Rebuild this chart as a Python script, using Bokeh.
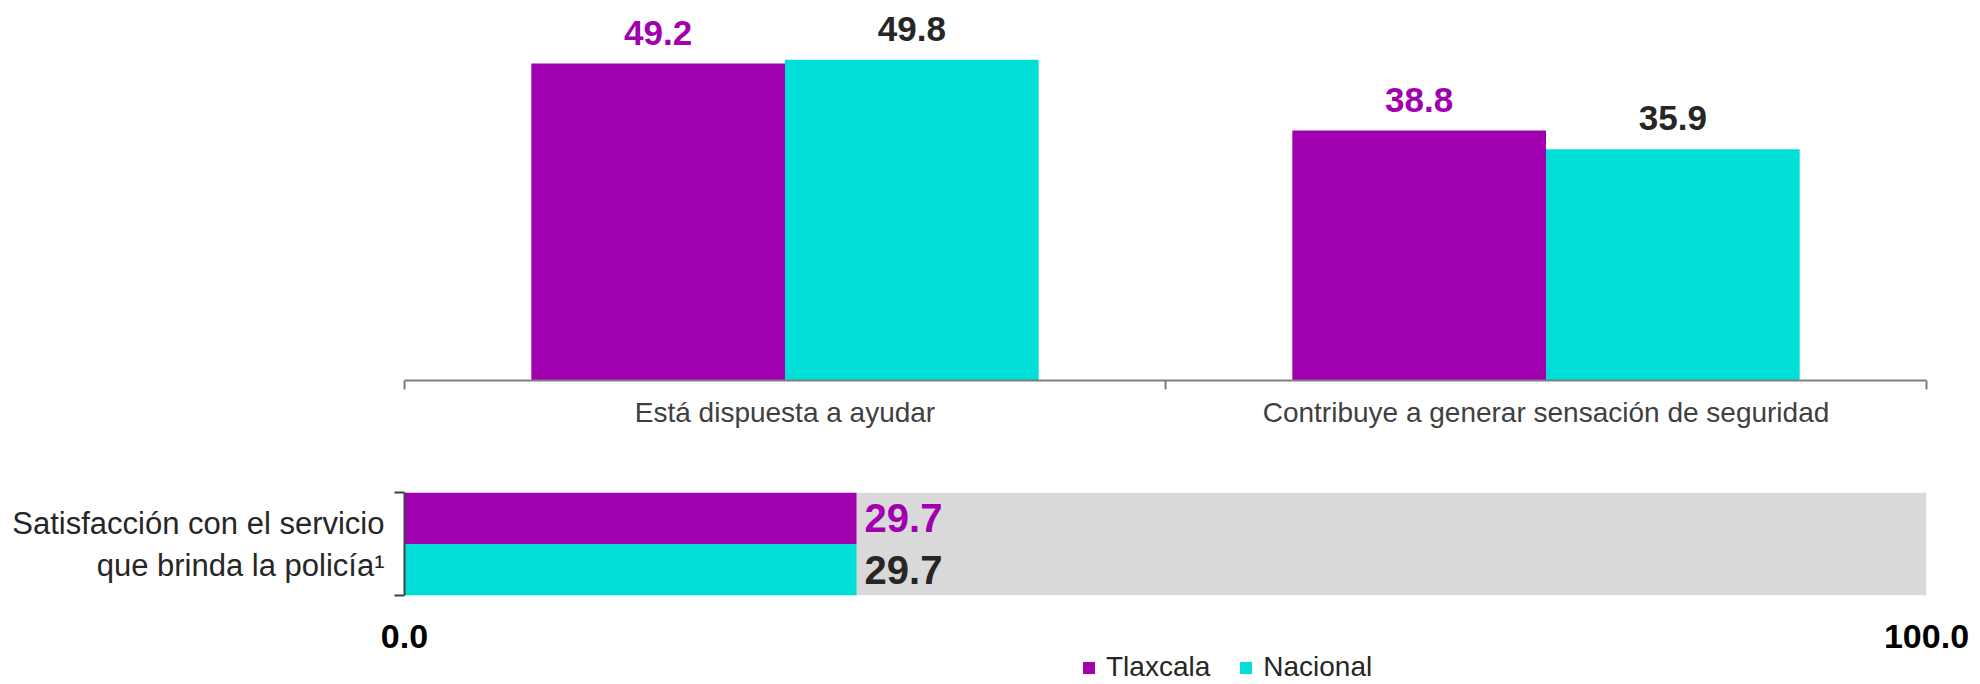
from bokeh.plotting import figure
from bokeh.models import (ColumnDataSource, Range1d, LinearAxis, FixedTicker,
                          Legend, LegendItem, PrintfTickFormatter)
from bokeh.transform import dodge
from bokeh.layouts import column
from bokeh.core.properties import value
from bokeh.embed import file_html
from bokeh.resources import INLINE

# ---------------- data ----------------
categories = ["Está dispuesta a ayudar", "Contribuye a generar sensación de seguridad"]
series = ["Tlaxcala", "Nacional"]
tlaxcala = [49.2, 38.8]
nacional = [49.8, 35.9]

sat_category = ["Satisfacción con el servicio\nque brinda la policía¹"]
sat_tlaxcala = [29.7]
sat_nacional = [29.7]
sat_scale_max = [100.0]
sat_ticks = [0, 100]

# ---------------- style ----------------
PURPLE = "#A000B0"
TEAL = "#00DED8"
GRAY = "#D9D9D9"
DARK = "#262626"
FONT = "Liberation Sans"
W = 1976
TOP_H = 459
MID_H = 138
BOT_H = 86
LEFT = 404
RIGHT = W - 1926

# ---------------- top chart ----------------
n = len(categories)
centers = [i + 0.5 for i in range(n)]
src = ColumnDataSource(dict(
    x=centers, tl=tlaxcala, na=nacional,
    tl_lbl=[f"{v:.1f}" for v in tlaxcala],
    na_lbl=[f"{v:.1f}" for v in nacional],
))

p1 = figure(width=W, height=TOP_H,
            x_range=Range1d(0, n), y_range=Range1d(0, 59.0),
            x_axis_location=None, y_axis_location=None,
            toolbar_location=None, output_backend="svg",
            min_border_left=LEFT, min_border_right=RIGHT,
            min_border_top=0, min_border_bottom=TOP_H - 380,
            outline_line_color=None)
p1.grid.visible = False

p1.vbar(x=dodge("x", -1/6), top="tl", width=1/3,
        source=src, fill_color=PURPLE, line_color=None)
p1.vbar(x=dodge("x", 1/6), top="na", width=1/3,
        source=src, fill_color=TEAL, line_color=None)

p1.text(x=dodge("x", -1/6), y="tl", text="tl_lbl", source=src,
        text_align="center", text_baseline="middle", y_offset=-31,
        text_font=value(FONT), text_font_style="bold", text_font_size="35px",
        text_color=PURPLE)
p1.text(x=dodge("x", 1/6), y="na", text="na_lbl", source=src,
        text_align="center", text_baseline="middle", y_offset=-31,
        text_font=value(FONT), text_font_style="bold", text_font_size="35px",
        text_color=DARK)

tick_axis = LinearAxis(ticker=FixedTicker(ticks=list(range(n + 1))),
                       major_label_overrides={i: "" for i in range(n + 1)},
                       major_label_text_font_size="1px", major_label_standoff=0,
                       major_tick_in=0, major_tick_out=9,
                       minor_tick_line_color=None,
                       axis_line_color="#7F7F7F", axis_line_width=2,
                       major_tick_line_color="#7F7F7F", major_tick_line_width=2)
cat_axis = LinearAxis(ticker=FixedTicker(ticks=centers, minor_ticks=[]),
                      major_label_overrides={c: lbl for c, lbl in zip(centers, categories)},
                      axis_line_color=None, major_tick_line_color=None,
                      minor_tick_line_color=None,
                      major_label_text_font=FONT,
                      major_label_text_font_size="28px",
                      major_label_text_color="#404040",
                      major_label_standoff=1)
p1.add_layout(tick_axis, "below")
p1.add_layout(cat_axis, "below")

# ---------------- middle chart (satisfaction bar) ----------------
src2 = ColumnDataSource(dict(
    y=[0.5], tl=sat_tlaxcala, na=sat_nacional, total=sat_scale_max,
    tl_lbl=[f"{v:.1f}" for v in sat_tlaxcala],
    na_lbl=[f"{v:.1f}" for v in sat_nacional],
))

sat_x_range = Range1d(0, sat_scale_max[0])
p2 = figure(width=W, height=MID_H,
            x_range=sat_x_range, y_range=Range1d(0, 1),
            x_axis_location=None, y_axis_location=None,
            toolbar_location=None, output_backend="svg",
            min_border_left=LEFT, min_border_right=RIGHT,
            min_border_top=492 - TOP_H, min_border_bottom=MID_H - (492 - TOP_H) - 103,
            outline_line_color=None)
p2.grid.visible = False

p2.hbar(y="y", right="total", height=1, source=src2,
        fill_color=GRAY, line_color=None)
p2.hbar(y=dodge("y", 0.25), right="tl", height=0.5,
        source=src2, fill_color=PURPLE, line_color=None)
p2.hbar(y=dodge("y", -0.25), right="na", height=0.5,
        source=src2, fill_color=TEAL, line_color=None)

p2.text(x="tl", y=dodge("y", 0.25), text="tl_lbl", source=src2,
        text_align="left", text_baseline="middle", x_offset=8,
        text_font=value(FONT), text_font_style="bold", text_font_size="40px",
        text_color=PURPLE)
p2.text(x="na", y=dodge("y", -0.25), text="na_lbl", source=src2,
        text_align="left", text_baseline="middle", x_offset=8,
        text_font=value(FONT), text_font_style="bold", text_font_size="40px",
        text_color=DARK)

ytick_axis = LinearAxis(ticker=FixedTicker(ticks=[0, 1]),
                        major_label_overrides={0: "", 1: ""},
                        major_label_text_font_size="1px", major_label_standoff=0,
                        major_tick_in=0, major_tick_out=10,
                        minor_tick_line_color=None,
                        axis_line_color="#404040", axis_line_width=2,
                        major_tick_line_color="#404040", major_tick_line_width=2)
ycat_axis = LinearAxis(ticker=FixedTicker(ticks=[0.5], minor_ticks=[]),
                       major_label_overrides={0.5: sat_category[0]},
                       axis_line_color=None, major_tick_line_color=None,
                       minor_tick_line_color=None,
                       major_label_text_font=FONT,
                       major_label_text_font_size="31px",
                       major_label_text_color=DARK,
                       major_label_standoff=4)
p2.add_layout(ytick_axis, "left")
p2.add_layout(ycat_axis, "left")

# ---------------- bottom strip: scale labels + legend ----------------
p3 = figure(width=W, height=BOT_H,
            x_range=sat_x_range, y_range=Range1d(2, 3),
            x_axis_location=None, y_axis_location=None,
            toolbar_location=None, output_backend="svg",
            min_border_left=LEFT, min_border_right=RIGHT,
            min_border_top=50, min_border_bottom=0,
            outline_line_color=None)
p3.grid.visible = False

# legend proxies (same series, outside the visible y window)
r_tl = p3.hbar(y=dodge("y", 0.25), right="tl", height=0.5,
               source=src2, fill_color=PURPLE, line_color=None)
r_na = p3.hbar(y=dodge("y", -0.25), right="na", height=0.5,
               source=src2, fill_color=TEAL, line_color=None)

xaxis = LinearAxis(ticker=FixedTicker(ticks=sat_ticks, minor_ticks=[]),
                   formatter=PrintfTickFormatter(format="%.1f"),
                   axis_line_color=None, major_tick_line_color=None,
                   minor_tick_line_color=None,
                   major_tick_in=0, major_tick_out=0,
                   major_label_text_font=FONT,
                   major_label_text_font_size="34px",
                   major_label_text_font_style="bold",
                   major_label_text_color="black",
                   major_label_standoff=0)
p3.add_layout(xaxis, "above")

legend = Legend(items=[LegendItem(label=series[0], renderers=[r_tl]),
                       LegendItem(label=series[1], renderers=[r_na])],
                orientation="horizontal", location=(1081 - LEFT, 0),
                glyph_width=15, glyph_height=15, label_standoff=10, spacing=28,
                padding=0, margin=0, border_line_color=None,
                background_fill_alpha=0,
                label_text_font=FONT, label_text_font_size="28px",
                label_text_color=DARK)
p3.add_layout(legend, "center")

layout = column(p1, p2, p3)
open("out.html", "w").write(file_html(layout, INLINE))
